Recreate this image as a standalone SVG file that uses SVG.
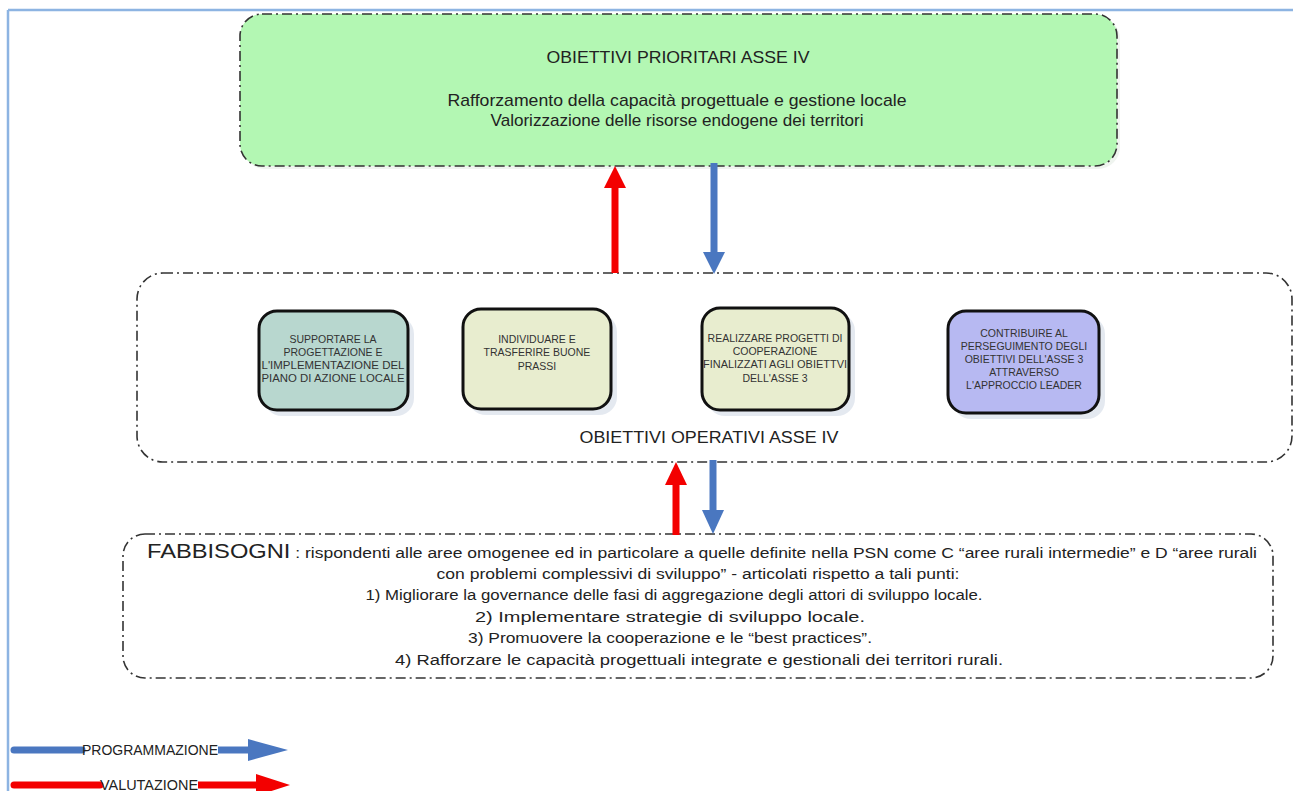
<svg xmlns="http://www.w3.org/2000/svg" width="1293" height="791" viewBox="0 0 1293 791">
<defs>
<style>
.frame{fill:none;stroke:#8db4e2;stroke-width:2.5}
.dd{stroke:#333;stroke-width:1.6;stroke-dasharray:10 4 2 4}
.box{stroke:#111;stroke-width:3}
.shadow{fill:#c9d3e2;opacity:0.5}
.t{font-family:"Liberation Sans",Arial,sans-serif;fill:#222}
.bt{font-family:"Liberation Sans",Arial,sans-serif;font-size:10.5px;fill:#333;text-anchor:middle}
.c{text-anchor:middle}
</style>
</defs>
<rect width="1293" height="791" fill="#fff"/>
<g id="frame">
<line class="frame" x1="8" y1="10" x2="1293" y2="10"/>
<line class="frame" x1="8" y1="10" x2="8" y2="791"/>
</g>

<g id="prioritari">
<rect x="243" y="17" width="877" height="152" rx="22" fill="#e4ece4" opacity="0.6"/>
<rect x="240" y="14" width="877" height="152" rx="22" fill="#b3f7b3" class="dd"/>
<text class="t c" x="678" y="63" font-size="17" textLength="263" lengthAdjust="spacingAndGlyphs">OBIETTIVI PRIORITARI ASSE IV</text>
<text class="t c" x="677" y="106" font-size="17" textLength="459" lengthAdjust="spacingAndGlyphs">Rafforzamento della capacità progettuale e gestione locale</text>
<text class="t c" x="677" y="126" font-size="17" textLength="373" lengthAdjust="spacingAndGlyphs">Valorizzazione delle risorse endogene dei territori</text>
</g>

<g id="operativi">
<rect x="137" y="273" width="1155" height="189" rx="26" fill="#fff" class="dd"/>
<text class="t c" x="709" y="443" font-size="16" textLength="259" lengthAdjust="spacingAndGlyphs">OBIETTIVI OPERATIVI ASSE IV</text>
</g>

<g id="op1">
<rect class="shadow" x="264" y="316" width="150" height="100" rx="18"/>
<rect class="box" x="259" y="311" width="149" height="99" rx="18" fill="#b8d7cf"/>
<text class="bt" x="333" y="343">SUPPORTARE LA</text>
<text class="bt" x="333" y="356">PROGETTAZIONE E</text>
<text class="bt" x="333" y="369" textLength="143" lengthAdjust="spacingAndGlyphs">L'IMPLEMENTAZIONE DEL</text>
<text class="bt" x="333" y="382" textLength="143" lengthAdjust="spacingAndGlyphs">PIANO DI AZIONE LOCALE</text>
</g>

<g id="op2">
<rect class="shadow" x="468" y="314" width="149" height="101" rx="18"/>
<rect class="box" x="463" y="309" width="148" height="100" rx="18" fill="#e8edcf"/>
<text class="bt" x="537" y="343">INDIVIDUARE E</text>
<text class="bt" x="537" y="356">TRASFERIRE BUONE</text>
<text class="bt" x="537" y="370">PRASSI</text>
</g>

<g id="op3">
<rect class="shadow" x="707" y="313" width="148" height="103" rx="18"/>
<rect class="box" x="702" y="308" width="147" height="102" rx="18" fill="#e8edcf"/>
<text class="bt" x="775" y="342">REALIZZARE PROGETTI DI</text>
<text class="bt" x="775" y="355">COOPERAZIONE</text>
<text class="bt" x="775" y="368" textLength="144" lengthAdjust="spacingAndGlyphs">FINALIZZATI AGLI OBIETTVI</text>
<text class="bt" x="775" y="382">DELL'ASSE 3</text>
</g>

<g id="op4">
<rect class="shadow" x="953" y="316" width="152" height="103" rx="18"/>
<rect class="box" x="948" y="311" width="151" height="102" rx="18" fill="#b7b9f2"/>
<text class="bt" x="1024" y="337">CONTRIBUIRE AL</text>
<text class="bt" x="1024" y="350">PERSEGUIMENTO DEGLI</text>
<text class="bt" x="1024" y="363">OBIETTIVI DELL'ASSE 3</text>
<text class="bt" x="1024" y="376">ATTRAVERSO</text>
<text class="bt" x="1024" y="389">L'APPROCCIO LEADER</text>
</g>

<g id="fabbisogni">
<rect x="123" y="534" width="1150" height="144" rx="22" fill="#fff" class="dd"/>
<text class="t" x="147" y="558" font-size="15.5" textLength="1110" lengthAdjust="spacingAndGlyphs"><tspan font-size="21">FABBISOGNI</tspan> : rispondenti alle aree omogenee ed in particolare a quelle definite nella PSN come C “aree rurali intermedie” e D “aree rurali</text>
<text class="t c" x="698" y="579" font-size="15.5" textLength="523" lengthAdjust="spacingAndGlyphs">con problemi complessivi di sviluppo” - articolati rispetto a tali punti:</text>
<text class="t c" x="674" y="600" font-size="15.5" textLength="617" lengthAdjust="spacingAndGlyphs">1) Migliorare la governance delle fasi di aggregazione degli attori di sviluppo locale.</text>
<text class="t c" x="670" y="622" font-size="15.5" textLength="390" lengthAdjust="spacingAndGlyphs">2) Implementare strategie di sviluppo locale.</text>
<text class="t c" x="670" y="643" font-size="15.5" textLength="404" lengthAdjust="spacingAndGlyphs">3) Promuovere la cooperazione e le “best practices”.</text>
<text class="t c" x="699" y="665" font-size="15.5" textLength="608" lengthAdjust="spacingAndGlyphs">4) Rafforzare le capacità progettuali integrate e gestionali dei territori rurali.</text>
</g>

<g id="connectors">
<line x1="615" y1="273" x2="615" y2="186" stroke="#f30000" stroke-width="7"/>
<polygon points="604,188 626,188 615,166" fill="#f30000"/>
<line x1="714" y1="163" x2="714" y2="254" stroke="#4a77c0" stroke-width="7"/>
<polygon points="703,252 725,252 714,274" fill="#4a77c0"/>
<line x1="676" y1="535" x2="676" y2="483" stroke="#f30000" stroke-width="7"/>
<polygon points="665,485 687,485 676,462" fill="#f30000"/>
<line x1="713" y1="460" x2="713" y2="512" stroke="#4a77c0" stroke-width="7"/>
<polygon points="702,510 724,510 713,534" fill="#4a77c0"/>
</g>

<g id="legend">
<line x1="14" y1="750" x2="82" y2="750" stroke="#4a77c0" stroke-width="7" stroke-linecap="round"/>
<line x1="218" y1="750" x2="250" y2="750" stroke="#4a77c0" stroke-width="7"/>
<polygon points="248,739 248,761 288,750" fill="#4a77c0"/>
<text class="t" x="82" y="755" font-size="14.5" textLength="136" lengthAdjust="spacingAndGlyphs">PROGRAMMAZIONE</text>
<line x1="14" y1="785" x2="100" y2="785" stroke="#f30000" stroke-width="7" stroke-linecap="round"/>
<line x1="198" y1="785" x2="258" y2="785" stroke="#f30000" stroke-width="7"/>
<polygon points="256,774 256,796 290,785" fill="#f30000"/>
<text class="t" x="100" y="790" font-size="14.5" textLength="98" lengthAdjust="spacingAndGlyphs">VALUTAZIONE</text>
</g>
</svg>
